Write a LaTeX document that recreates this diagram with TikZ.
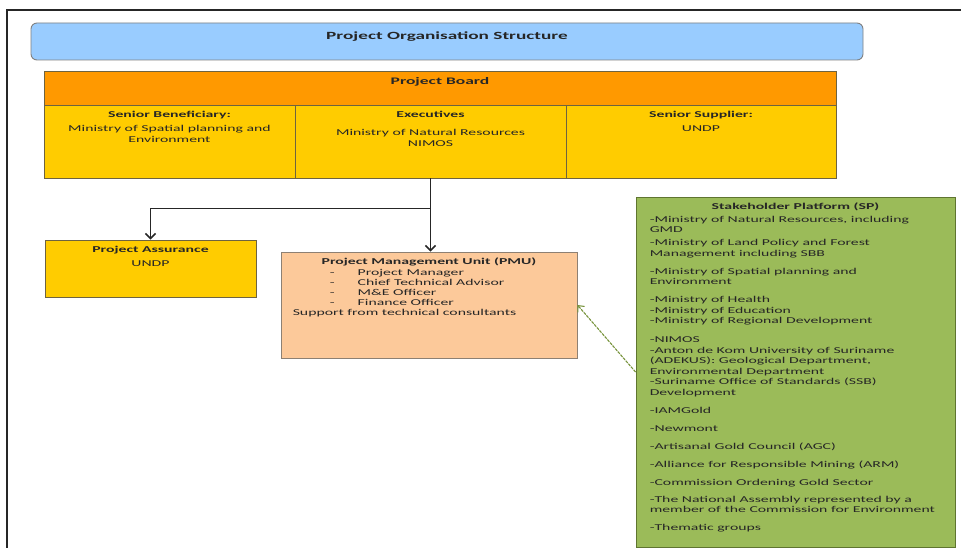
\documentclass[tikz,border=0pt]{standalone}
\usepackage{fontspec}
\setmainfont{Carlito}[FakeStretch=1.75]
\usetikzlibrary{arrows.meta,positioning}

\definecolor{skyfill}{HTML}{99CCFF}
\definecolor{boardfill}{HTML}{FF9900}
\definecolor{cellfill}{HTML}{FFCC00}
\definecolor{pmufill}{HTML}{FCC99A}
\definecolor{spfill}{HTML}{9BBB59}
\definecolor{cellline}{HTML}{6E6340}
\definecolor{greyline}{HTML}{808080}
\definecolor{spline}{HTML}{5F7530}
\definecolor{linkgreen}{HTML}{77933C}
\definecolor{ink}{HTML}{262626}

\tikzset{
  box/.style={draw=cellline, line width=0.9pt, inner sep=0pt},
  txt/.style={inner sep=0pt, text=ink, font=\fontsize{9}{10.5}\selectfont},
  flow/.style={draw=ink, line width=1.6pt, -{Straight Barb[length=5pt,width=10pt]}},
  link/.style={draw=linkgreen, line width=1.1pt, dash pattern=on 3pt off 1pt,
    -{Straight Barb[length=5pt,width=9pt]}}
}

\begin{document}
\begin{tikzpicture}[x=1pt,y=-1pt]
   \useasboundingbox (0,0) rectangle (961,548);

   % Page frame
   \draw[ink, line width=1.8pt] (7,548) -- (7,10) -- (961,10);

   % Title bar
   \node[box, draw=greyline, fill=skyfill, rounded corners=6pt,
         minimum width=832pt, minimum height=37pt] (title) at (447,41.5) {};
   \node[txt, anchor=north, font=\bfseries\fontsize{11}{13}\selectfont]
         (titletext) at ([yshift=-9pt]title.north) {Project Organisation Structure};

   % Project board
   \node[box, fill=boardfill, minimum width=792pt, minimum height=34pt] (board) at (440,88) {};
   \node[txt, anchor=north, font=\bfseries\fontsize{10}{12}\selectfont]
         (boardtext) at ([yshift=-7pt]board.north) {Project Board};

   \node[box, fill=cellfill, minimum width=251pt, minimum height=73pt] (benef) at (169.5,141.5) {};
   \node[box, fill=cellfill, minimum width=271pt, minimum height=73pt] (exec) at (430.5,141.5) {};
   \node[box, fill=cellfill, minimum width=270pt, minimum height=73pt] (supplier) at (701,141.5) {};

   \node[txt, anchor=north, align=center] (benefText) at ([yshift=-6.5pt]benef.north)
         {\textbf{Senior Beneficiary:}\\[3.5pt]Ministry of Spatial planning and\\Environment};
   \node[txt, anchor=north, align=center] (execText) at ([yshift=-6.5pt]exec.north)
         {\textbf{Executives}\\[7.5pt]Ministry of Natural Resources\\NIMOS};
   \node[txt, anchor=north, align=center] (supplierText) at ([yshift=-6.5pt]supplier.north)
         {\textbf{Senior Supplier:}\\[3.5pt]UNDP};

   % Assurance and management unit
   \node[box, fill=cellfill, minimum width=211pt, minimum height=57pt] (assurance) at (150.5,268.5) {};
   \node[txt, anchor=north, align=center] (assuranceText) at ([yshift=-6.5pt]assurance.north)
         {\textbf{Project Assurance}\\[3.5pt]UNDP};

   \node[box, draw=greyline!80!brown, fill=pmufill, minimum width=296pt, minimum height=106pt] (pmu) at (429,305) {};
   \node[txt, anchor=north] (pmuHead) at ([yshift=-6.5pt]pmu.north)
         {\textbf{Project Management Unit (PMU)}};
   \node[txt, anchor=north west, align=left, font=\fontsize{9}{10}\selectfont] (pmuList)
         at ([xshift=12pt,yshift=-18pt]pmu.north west)
         {\hspace*{37pt}\makebox[28pt][l]{-}Project Manager\\
          \hspace*{37pt}\makebox[28pt][l]{-}Chief Technical Advisor\\
          \hspace*{37pt}\makebox[28pt][l]{-}M\&E Officer\\
          \hspace*{37pt}\makebox[28pt][l]{-}Finance Officer\\
          Support from technical consultants};

   % Stakeholder platform
   \node[box, draw=spline, fill=spfill, minimum width=319pt, minimum height=350pt] (sp) at (795.5,372) {};
   \node[txt, anchor=north] (spHead) at ([yshift=-6pt]sp.north)
         {\textbf{Stakeholder Platform (SP)}};
   \node[txt, anchor=north west, align=left] (spList) at ([xshift=14pt,yshift=-19pt]sp.north west)
         {-Ministry of Natural Resources, including\\GMD\\[2.5pt]
          -Ministry of Land Policy and Forest\\Management including SBB\\[7.5pt]
          -Ministry of Spatial planning and\\Environment\\[7.5pt]
          -Ministry of Health\\-Ministry of Education\\-Ministry of Regional Development\\[8.5pt]
          -NIMOS\\-Anton de Kom University of Suriname\\(ADEKUS): Geological Department,\\
          Environmental Department\\-Suriname Office of Standards (SSB)\\Development\\[7.5pt]
          -IAMGold\\[7.5pt]
          -Newmont\\[7.5pt]
          -Artisanal Gold Council (AGC)\\[7.5pt]
          -Alliance for Responsible Mining (ARM)\\[7.5pt]
          -Commission Ordening Gold Sector\\[6.5pt]
          -The National Assembly represented by a\\member of the Commission for Environment\\[7.5pt]
          -Thematic groups};

   % Connectors
   \coordinate (split) at ([yshift=-30pt]exec.south);
   \draw[flow] (exec.south) -- (split) -| (assurance.north);
   \draw[flow] (split) -- (split |- pmu.north);
   \draw[link] (sp.west) -- (pmu.east);
\end{tikzpicture}
\end{document}
